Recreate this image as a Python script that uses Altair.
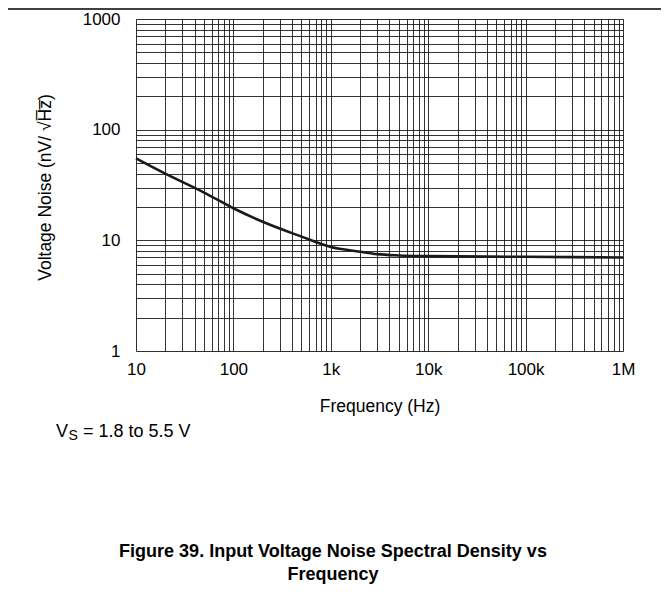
import altair as alt
import pandas as pd

# Curve data
freq_hz = [10, 20, 50, 100, 200, 500, 1000, 2000, 3000, 5000, 10000, 100000, 1000000]
noise_nv = [55, 40, 27, 19.5, 14.7, 10.8, 8.7, 7.9, 7.5, 7.3, 7.2, 7.1, 7.0]

x_grid = [m * 10 ** k for k in range(1, 6) for m in range(1, 10)] + [1000000]
y_grid = [m * 10 ** k for k in range(0, 3) for m in range(1, 10)] + [1000]

x_label_expr = ("datum.value == 10 ? '10' : datum.value == 100 ? '100' : "
                "datum.value == 1000 ? '1k' : datum.value == 10000 ? '10k' : "
                "datum.value == 100000 ? '100k' : datum.value == 1000000 ? '1M' : ''")
y_label_expr = ("datum.value == 1 ? '1' : datum.value == 10 ? '10' : "
                "datum.value == 100 ? '100' : datum.value == 1000 ? '1000' : ''")

title_y = "Voltage Noise (nV/ \u221aH\u0305z\u0305)"
title_x = "Frequency (Hz)"
cond_main = "= 1.8 to 5.5 V"
caption1 = "Figure 39. Input Voltage Noise Spectral Density vs"
caption2 = "Frequency"

FONT = "Liberation Sans"

df = pd.DataFrame({"f": freq_hz, "n": noise_nv})

W, H = 487, 332

line = alt.Chart(df).mark_line(color="#1a1a1a", strokeWidth=2.6, interpolate="monotone").encode(
    x=alt.X("f:Q",
            scale=alt.Scale(type="log", domain=[10, 1000000], nice=False),
            axis=alt.Axis(values=x_grid, labelExpr=x_label_expr, grid=True, gridColor="#111",
                          gridWidth=1, gridOpacity=0.85, ticks=False, domain=False,
                          labelOverlap=False, labelFlush=False, labelBound=False,
                          labelFont=FONT, labelFontSize=17, labelColor="black",
                          labelPadding=10, title=title_x, titleFont=FONT, titleFontSize=17.5,
                          titleFontWeight="normal", titleColor="black",
                          titleX=W / 2, titleY=55, titleBaseline="middle", titleAlign="center")),
    y=alt.Y("n:Q",
            scale=alt.Scale(type="log", domain=[1, 1000], nice=False),
            axis=alt.Axis(values=y_grid, labelExpr=y_label_expr, grid=True, gridColor="#111",
                          gridWidth=1, gridOpacity=0.85, ticks=False, domain=False,
                          labelOverlap=False, labelFlush=False, labelBound=False,
                          labelFont=FONT, labelFontSize=17, labelColor="black",
                          labelPadding=16, title=title_y, titleFont=FONT, titleFontSize=17.5,
                          titleFontWeight="normal", titleColor="black", titleAngle=-90,
                          titleX=-91, titleY=168, titleBaseline="middle", titleAlign="center")),
)

one = pd.DataFrame({"a": [0]})

top_rule = alt.Chart(one).mark_rule(color="black", strokeWidth=1.5).encode(
    x=alt.value(-140), x2=alt.value(540), y=alt.value(-10))

v_text = alt.Chart(one).mark_text(text="V", font=FONT, fontSize=18, align="left",
                                  baseline="alphabetic", color="black").encode(
    x=alt.value(-80), y=alt.value(418))
s_text = alt.Chart(one).mark_text(text="S", font=FONT, fontSize=14, align="left",
                                  baseline="alphabetic", color="black").encode(
    x=alt.value(-67.5), y=alt.value(420.5))
rest_text = alt.Chart(one).mark_text(text=cond_main, font=FONT, fontSize=18, align="left",
                                     baseline="alphabetic", color="black").encode(
    x=alt.value(-53), y=alt.value(418))
cap1 = alt.Chart(one).mark_text(text=caption1, font=FONT, fontSize=18, fontWeight="bold",
                                align="center", baseline="alphabetic", color="black").encode(
    x=alt.value(197), y=alt.value(538))
cap2 = alt.Chart(one).mark_text(text=caption2, font=FONT, fontSize=18, fontWeight="bold",
                                align="center", baseline="alphabetic", color="black").encode(
    x=alt.value(197), y=alt.value(561))

chart = alt.layer(line, top_rule, v_text, s_text, rest_text, cap1, cap2).properties(
    width=W, height=H,
    autosize=alt.AutoSizeParams(type="none"),
    padding={"left": 128, "top": 11, "right": 38, "bottom": 233},
).configure_view(stroke="black", strokeWidth=2.5).configure(background="white")

chart.save("out.html", embed_options={"renderer": "svg", "actions": False})
